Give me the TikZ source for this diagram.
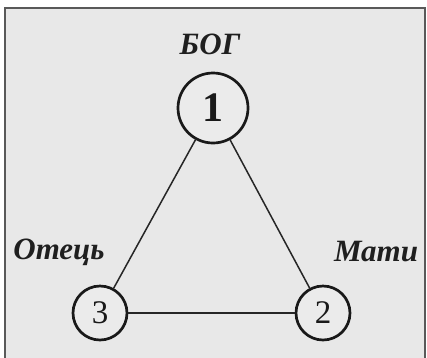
\documentclass[tikz,border=0pt]{standalone}
\usepackage{fontspec}
\setmainfont{Liberation Serif}
\begin{document}
\begin{tikzpicture}[x=1pt,y=-1pt,
  bigcirc/.style={circle,draw=black!90,line width=2.7pt,minimum size=70pt,inner sep=0pt,fill=black!8},
  smallcirc/.style={circle,draw=black!90,line width=2.7pt,minimum size=54pt,inner sep=0pt,fill=black!8},
  lbl/.style={font=\fontsize{31}{31}\selectfont\bfseries\itshape,text=black!88,inner sep=0pt},
  edge/.style={draw=black!85,line width=1.5pt}]
\useasboundingbox (0,0) rectangle (427,357);
\fill[white] (0,0) rectangle (427,357);
\draw[fill=black!9,draw=black!65,line width=1.2pt] (5,8) rectangle (425,362);
\node[bigcirc] (n1) at (213,108) {};
\node[smallcirc] (n3) at (100,313) {};
\node[smallcirc] (n2) at (323,313) {};
\draw[edge] (n1) -- (n3);
\draw[edge] (n1) -- (n2);
\draw[edge] (n3) -- (n2);
\node[font=\fontsize{42}{42}\selectfont\bfseries,text=black!90] at (n1) {1};
\node[font=\fontsize{33}{33}\selectfont,text=black!90] at (n3) {3};
\node[font=\fontsize{33}{33}\selectfont,text=black!90] at (n2) {2};
\node[lbl] (bog) at (210,44) {БОГ};
\node[lbl] (otec) at (59,252) {Отець};
\node[lbl] (maty) at (376,252) {Мати};
\end{tikzpicture}
\end{document}
